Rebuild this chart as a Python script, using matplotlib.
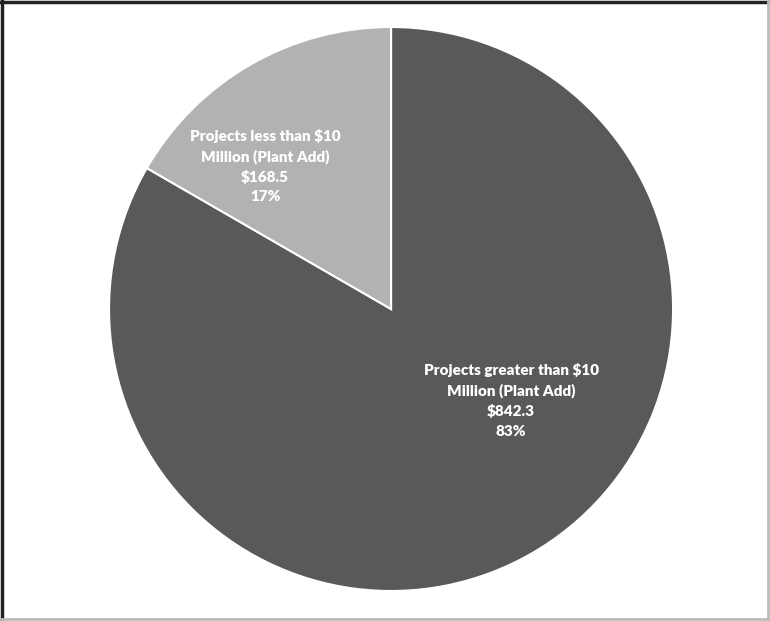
import matplotlib
matplotlib.use("Agg")
import matplotlib.pyplot as plt
from matplotlib.lines import Line2D

# data
labels = ["Projects greater than $10\nMillion (Plant Add)", "Projects less than $10\nMillion (Plant Add)"]
values = [842.3, 168.5]
colors = ["#595959", "#b2b2b2"]
# label centres in axes data units (pie radius = 1)
label_pos = [(0.426, -0.323), (-0.447, 0.507)]

plt.rcParams['font.family'] = ['Lato', 'DejaVu Sans']

fig = plt.figure(figsize=(7.7, 6.21), dpi=100)
ax = fig.add_axes([0.1416, 0.0483, 0.7325, 0.9082])

wedges, _ = ax.pie(values, colors=colors, startangle=90, counterclock=False,
                   radius=1, wedgeprops=dict(edgecolor="white", linewidth=1.5))
ax.set_xlim(-1, 1)
ax.set_ylim(-1, 1)
ax.set_aspect("auto")
ax.axis("off")

total = sum(values)
for lab, v, pos in zip(labels, values, label_pos):
    txt = "%s\n$%.1f\n%d%%" % (lab, v, round(v / total * 100))
    ax.text(pos[0], pos[1], txt, ha="center", va="center", color="white",
            fontsize=11, fontweight="heavy", linespacing=1.55)

# chart frame: dark left/top, light right/bottom
fig.add_artist(Line2D([0.002, 0.002], [0, 0.998], transform=fig.transFigure, color="#222222", lw=2.5))
fig.add_artist(Line2D([0, 1], [0.997, 0.997], transform=fig.transFigure, color="#222222", lw=2.5))
fig.add_artist(Line2D([0.998, 0.998], [0, 1], transform=fig.transFigure, color="#bbbbbb", lw=2))
fig.add_artist(Line2D([0, 1], [0.003, 0.003], transform=fig.transFigure, color="#bbbbbb", lw=2))

fig.savefig("out.png", dpi=100)
